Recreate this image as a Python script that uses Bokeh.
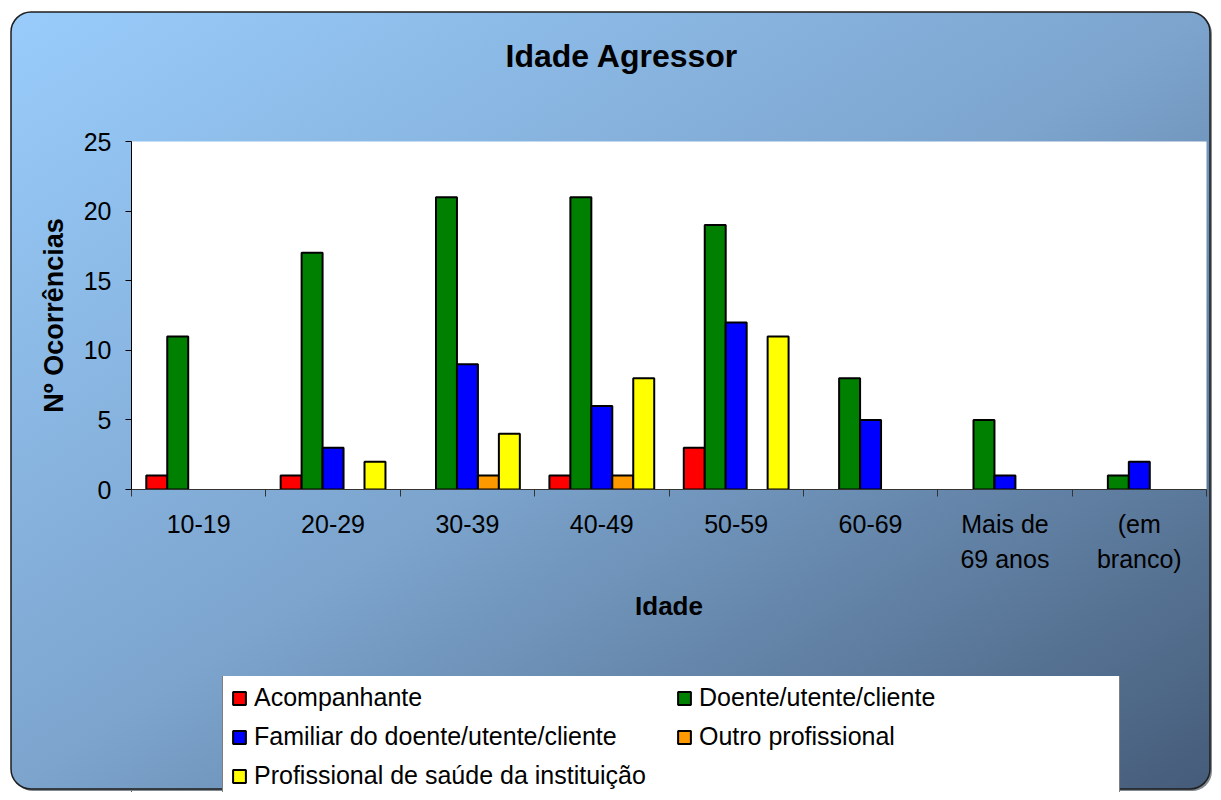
from bokeh.plotting import figure
from bokeh.models import (Range1d, FixedTicker, Legend, LegendItem,
                          ColumnDataSource, Column, Title)
from bokeh.embed import file_html
from bokeh.resources import INLINE

# ---- data ----
categories = ["10-19", "20-29", "30-39", "40-49", "50-59", "60-69",
              "Mais de\n69 anos", "(em\nbranco)"]
series_names = ["Acompanhante", "Doente/utente/cliente",
                "Familiar do doente/utente/cliente", "Outro profissional",
                "Profissional de saúde da instituição"]
acompanhante = [1, 1, 0, 1, 3, 0, 0, 0]
doente = [11, 17, 21, 21, 19, 8, 5, 1]
familiar = [0, 3, 9, 6, 12, 5, 1, 2]
outro = [0, 0, 1, 1, 0, 0, 0, 0]
profissional = [0, 2, 4, 8, 11, 0, 0, 0]
y_ticks = [0, 5, 10, 15, 20, 25]

colors = ["#FF0000", "#008000", "#0000FF", "#FF9900", "#FFFF00"]
FONT = "Liberation Sans"
W, H_MAIN, H_LEG = 1213, 676, 116

# rounded gradient chart box painted as page background (no text in it)
svg_bg = (
    "<svg xmlns='http://www.w3.org/2000/svg' width='1213' height='792'>"
    "<defs><linearGradient id='g' x1='0' y1='0' x2='1' y2='1'>"
    "<stop offset='0' stop-color='%2399CCFB'/>"
    "<stop offset='0.5' stop-color='%237CA4CD'/>"
    "<stop offset='1' stop-color='%23455C79'/>"
    "</linearGradient></defs>"
    "<rect x='13' y='14' width='1199' height='777' rx='20' ry='20' fill='%23303a48' opacity='0.6'/>"
    "<rect x='11' y='12' width='1199' height='777' rx='20' ry='20' fill='url(%23g)' "
    "stroke='%231e1e1e' stroke-width='1.5'/>"
    "</svg>"
)

p = figure(width=W, height=H_MAIN, x_range=Range1d(0, len(categories)),
           y_range=Range1d(0, 25), output_backend="svg", toolbar_location=None,
           min_border_left=131, min_border_right=7, min_border_top=141,
           min_border_bottom=H_MAIN - 489, title=None)
p.border_fill_color = None
p.background_fill_color = "white"
p.outline_line_color = None
p.grid.visible = False

# title: an empty spacer title next to the frame, then the real title
spacer = Title(text=" ", text_font_size="1px", standoff=65)
p.add_layout(spacer, "above")
title = Title(text="Idade Agressor", text_font=FONT, text_font_size="32px",
              text_font_style="bold", text_color="black", align="left",
              offset=374, standoff=0)
p.add_layout(title, "above")

# bars
bw = 0.156
series_values = [acompanhante, doente, familiar, outro, profissional]
for k, (name, vals, col) in enumerate(zip(series_names, series_values, colors)):
    xs = [i + 0.5 + (k - 2) * bw for i, v in enumerate(vals) if v > 0]
    tops = [v for v in vals if v > 0]
    src = ColumnDataSource(dict(x=xs, top=tops))
    p.vbar(x="x", top="top", bottom=0, width=bw, source=src,
           fill_color=col, line_color="black", line_width=2)

# y axis
ya = p.yaxis[0]
ya.ticker = FixedTicker(ticks=y_ticks)
ya.axis_label = "Nº Ocorrências"
ya.axis_label_text_font = FONT
ya.axis_label_text_font_size = "27px"
ya.axis_label_text_font_style = "bold"
ya.axis_label_text_color = "black"
ya.axis_label_standoff = 12
ya.major_label_text_font = FONT
ya.major_label_text_font_size = "25px"
ya.major_label_text_color = "black"
ya.major_label_standoff = 14
ya.major_tick_out = 6
ya.major_tick_in = 0
ya.minor_tick_out = 0
ya.minor_tick_in = 0
ya.axis_line_color = "black"
ya.major_tick_line_color = "black"

# x axis
xa = p.xaxis[0]
xa.ticker = FixedTicker(ticks=[i + 0.5 for i in range(len(categories))],
                        minor_ticks=list(range(len(categories) + 1)))
xa.major_label_overrides = {i + 0.5: c for i, c in enumerate(categories)}
xa.axis_label = "Idade"
xa.axis_label_text_font = FONT
xa.axis_label_text_font_size = "26px"
xa.axis_label_text_font_style = "bold"
xa.axis_label_text_color = "black"
xa.axis_label_standoff = 15
xa.major_label_text_font = FONT
xa.major_label_text_font_size = "25px"
xa.major_label_text_color = "black"
xa.major_label_text_line_height = 1.25
xa.major_label_standoff = 13
xa.major_tick_out = 0
xa.major_tick_in = 0
xa.minor_tick_out = 7
xa.minor_tick_in = 0
xa.minor_tick_line_color = "#333333"
xa.axis_line_color = "#333333"

# legend strip: proxy glyphs with the bars' styles, kept outside the view
lp = figure(width=W, height=H_LEG, x_range=Range1d(0, 1), y_range=Range1d(0, 1),
            output_backend="svg", toolbar_location=None,
            x_axis_location=None, y_axis_location=None, min_border=0)
lp.border_fill_color = None
lp.background_fill_color = None
lp.outline_line_color = None
lp.grid.visible = False
items = []
for name, col in zip(series_names, colors):
    r = lp.vbar(x=[-5], top=[-5], bottom=-6, width=0.1, fill_color=col,
                line_color="black", line_width=2)
    items.append(LegendItem(label=name, renderers=[r]))

legend = Legend(items=items, ncols=2, orientation="horizontal",
                location=(91, -7))
legend.label_text_font = FONT
legend.label_text_font_size = "25px"
legend.label_text_color = "black"
legend.glyph_width = 16
legend.glyph_height = 16
legend.label_standoff = 7
legend.label_width = 412
legend.spacing = 10
legend.padding = 8
legend.margin = 0
legend.border_line_color = "black"
legend.border_line_width = 1
legend.background_fill_color = "white"
legend.background_fill_alpha = 1
lp.add_layout(legend, "center")

layout = Column(children=[p, lp], spacing=0)
layout.styles = {
    "background": 'white url("data:image/svg+xml;utf8,' + svg_bg + '") no-repeat 0 0',
}

open("out.html", "w").write(file_html(layout, INLINE))
